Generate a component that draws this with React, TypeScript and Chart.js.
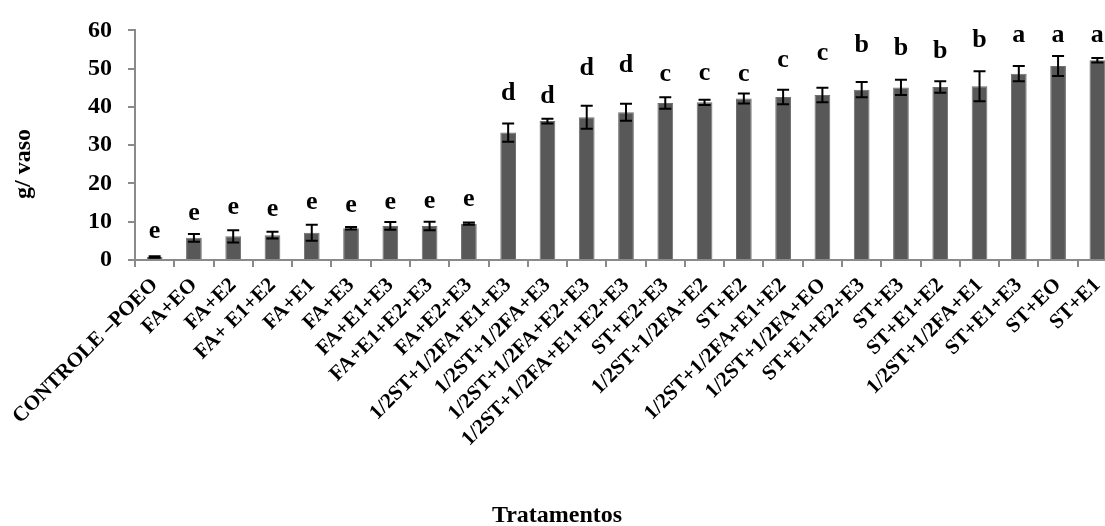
import React, { useEffect, useRef } from "react";
import { Chart, registerables } from "chart.js";

Chart.register(...registerables);

const categories = [
  "CONTROLE –POEO",
  "FA+EO",
  "FA+E2",
  "FA+ E1+E2",
  "FA+E1",
  "FA+E3",
  "FA+E1+E3",
  "FA+E1+E2+E3",
  "FA+E2+E3",
  "1/2ST+1/2FA+E1+E3",
  "1/2ST+1/2FA+E3",
  "1/2ST+1/2FA+E2+E3",
  "1/2ST+1/2FA+E1+E2+E3",
  "ST+E2+E3",
  "1/2ST+1/2FA+E2",
  "ST+E2",
  "1/2ST+1/2FA+E1+E2",
  "1/2ST+1/2FA+EO",
  "ST+E1+E2+E3",
  "ST+E3",
  "ST+E1+E2",
  "1/2ST+1/2FA+E1",
  "ST+E1+E3",
  "ST+EO",
  "ST+E1",
];

const means = [
  0.8, 5.8, 6.2, 6.5, 7.1, 8.3, 8.9, 8.9, 9.5, 33.3, 36.3, 37.3, 38.6, 41.0,
  41.2, 42.2, 42.6, 43.1, 44.5, 45.1, 45.2, 45.4, 48.7, 50.7, 52.2,
];

const errors = [
  0.2, 1.0, 1.6, 0.9, 2.1, 0.3, 1.0, 1.1, 0.3, 2.4, 0.6, 3.0, 2.2, 1.5, 0.7,
  1.3, 1.9, 1.9, 2.0, 2.0, 1.5, 3.9, 2.0, 2.6, 0.6,
];

const letters = [
  "e", "e", "e", "e", "e", "e", "e", "e", "e",
  "d", "d", "d", "d",
  "c", "c", "c", "c", "c",
  "b", "b", "b", "b",
  "a", "a", "a",
];

const letterLevels = [
  7.6, 12.2, 13.7, 13.2, 15.0, 14.2, 15.0, 15.4, 15.8, 43.5, 42.7, 50.1, 50.9,
  48.6, 48.9, 48.5, 52.2, 53.9, 56.2, 55.2, 54.5, 57.3, 58.8, 58.8, 58.8,
];

const yMin = 0;
const yMax = 60;
const yStep = 10;

const xTitle = "Tratamentos";
const yTitle = "g/ vaso";

const FONT = "'Liberation Serif', 'Times New Roman', serif";
const AXIS_GRAY = "#8a8a8a";

export default function App() {
  const ref = useRef<HTMLCanvasElement>(null);

  useEffect(() => {
    const canvas = ref.current;
    if (!canvas) return;

    const extras = {
      id: "extras",
      afterDatasetsDraw(chart: any) {
        const ctx = chart.ctx as CanvasRenderingContext2D;
        const x = chart.scales.x;
        const y = chart.scales.y;
        ctx.save();
        ctx.strokeStyle = "#000";
        ctx.lineWidth = 2;
        means.forEach((m, i) => {
          const px = x.getPixelForValue(i);
          const top = y.getPixelForValue(m + errors[i]);
          const bot = y.getPixelForValue(Math.max(0, m - errors[i]));
          ctx.beginPath();
          ctx.moveTo(px, top);
          ctx.lineTo(px, bot);
          ctx.moveTo(px - 6, top);
          ctx.lineTo(px + 6, top);
          ctx.moveTo(px - 6, bot);
          ctx.lineTo(px + 6, bot);
          ctx.stroke();
        });
        ctx.fillStyle = "#000";
        ctx.font = `bold 26px ${FONT}`;
        ctx.textAlign = "center";
        ctx.textBaseline = "middle";
        letters.forEach((l, i) => {
          ctx.fillText(l, x.getPixelForValue(i), y.getPixelForValue(letterLevels[i]));
        });
        ctx.font = `bold 24px ${FONT}`;
        ctx.textBaseline = "alphabetic";
        ctx.fillText(xTitle, 557, 522);
        ctx.translate(24, 164);
        ctx.rotate(-Math.PI / 2);
        ctx.textBaseline = "middle";
        ctx.fillText(yTitle, 0, 0);
        ctx.restore();
      },
    };

    const chart = new Chart(canvas, {
      type: "bar",
      data: {
        labels: categories,
        datasets: [
          {
            data: means,
            backgroundColor: "#585858",
            borderColor: "#6f6f6f",
            borderWidth: 1,
            barPercentage: 0.4,
            categoryPercentage: 1,
          },
        ],
      },
      options: {
        responsive: false,
        animation: false,
        layout: { padding: { top: 24, right: 8, left: 0, bottom: 0 } },
        plugins: {
          legend: { display: false },
          tooltip: { enabled: false },
          title: { display: false },
        },
        scales: {
          x: {
            grid: {
              display: true,
              drawOnChartArea: false,
              offset: true,
              tickLength: 7,
              color: AXIS_GRAY,
              lineWidth: 2,
            },
            border: { display: true, color: AXIS_GRAY, width: 2 },
            ticks: {
              autoSkip: false,
              maxRotation: 45,
              minRotation: 45,
              padding: 6,
              color: "#000",
              font: { family: FONT, size: 21, weight: "bold" },
            },
            afterFit: (s: any) => {
              s.height = 266;
            },
          },
          y: {
            min: yMin,
            max: yMax,
            ticks: {
              stepSize: yStep,
              padding: 16,
              color: "#000",
              font: { family: FONT, size: 24, weight: "bold" },
            },
            grid: {
              drawOnChartArea: false,
              tickLength: 7,
              color: AXIS_GRAY,
              lineWidth: 2,
            },
            border: { display: true, color: AXIS_GRAY, width: 2 },
            afterFit: (s: any) => {
              s.width = 135;
            },
          },
        },
      },
      plugins: [extras],
    } as any);

    return () => chart.destroy();
  }, []);

  return (
    <div
      style={{
        position: "fixed",
        left: 0,
        top: 0,
        width: 1105,
        height: 526,
        overflow: "hidden",
        background: "#fff",
      }}
    >
      <canvas
        ref={ref}
        width={1125}
        height={526}
        style={{ width: "1125px", height: "526px", display: "block" }}
      />
    </div>
  );
}
